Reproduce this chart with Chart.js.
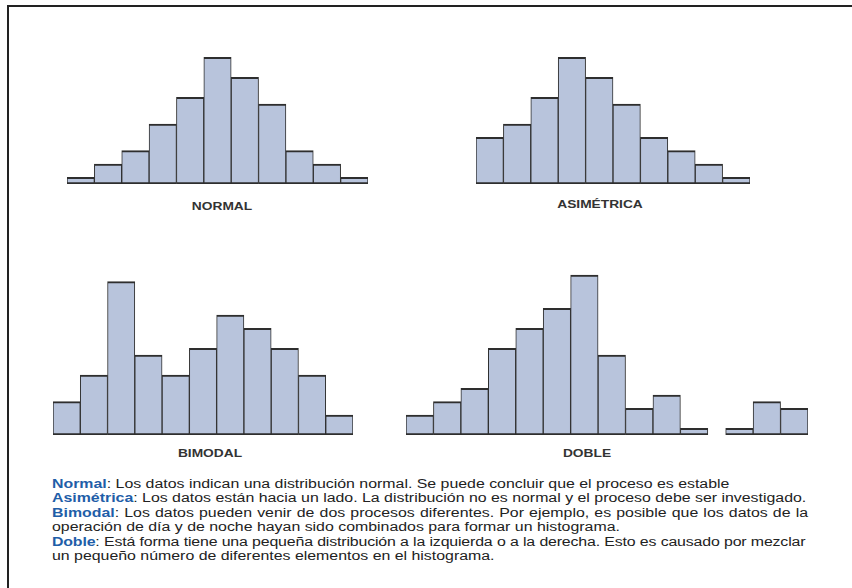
<!DOCTYPE html>
<html>
<head>
<meta charset="utf-8">
<script src="https://cdn.jsdelivr.net/npm/chart.js@4/dist/chart.umd.min.js"></script>
<style>
  html, body { margin:0; padding:0; background:#fff; }
  body { width:852px; height:588px; position:relative; overflow:hidden; font-family:"Liberation Sans", Arial, sans-serif; }
  .frame { position:absolute; left:7px; top:5px; width:900px; height:700px; border-left:2px solid #222; border-top:2px solid #222; }
  canvas { position:absolute; }
  .cap { position:absolute; font-weight:bold; font-size:10.5px; color:#333; white-space:nowrap; transform:translate(-50%,-50%) scaleX(1.31); }
  .notes { position:absolute; left:52px; top:477px; width:571px; transform:scaleX(1.324); transform-origin:left top; font-size:12px; line-height:14.4px; color:#222; }
  .notes div { white-space:nowrap; }
  .notes .j { text-align:justify; text-align-last:justify; }
  .notes .tight { letter-spacing:-0.12px; width:569px; }
  .notes b { color:#1f5ea8; }
</style>
</head>
<body>
<div class="frame"></div>

<canvas id="cNormal" width="301" height="170" style="left:67px;top:14px"></canvas>
<canvas id="cAsim" width="274" height="170" style="left:476px;top:14px"></canvas>
<canvas id="cBimodal" width="300" height="170" style="left:53px;top:265px"></canvas>
<canvas id="cDoble" width="402" height="170" style="left:406px;top:265px"></canvas>

<div class="cap" style="left:222px;top:206px">NORMAL</div>
<div class="cap" style="left:600px;top:204px">ASIMÉTRICA</div>
<div class="cap" style="left:210px;top:453px">BIMODAL</div>
<div class="cap" style="left:587px;top:453px">DOBLE</div>

<div class="notes">
  <div><b>Normal</b>: Los datos indican una distribución normal. Se puede concluir que el proceso es estable</div>
  <div><b>Asimétrica</b>: Los datos están hacia un lado. La distribución no es normal y el proceso debe ser investigado.</div>
  <div class="j"><b>Bimodal</b>: Los datos pueden venir de dos procesos diferentes. Por ejemplo, es posible que los datos de la</div>
  <div>operación de día y de noche hayan sido combinados para formar un histograma.</div>
  <div class="j tight"><b>Doble</b>: Está forma tiene una pequeña distribución a la izquierda o a la derecha. Esto es causado por mezclar</div>
  <div>un pequeño número de diferentes elementos en el histograma.</div>
</div>

<script>
// histogram data (bin heights in counts)
const normalBins = ['1','2','3','4','5','6','7','8','9','10','11'];
const normalValues = [1, 3, 5, 9, 13, 19, 16, 12, 5, 3, 1];

const asimBins = ['1','2','3','4','5','6','7','8','9','10'];
const asimValues = [7, 9, 13, 19, 16, 12, 7, 5, 3, 1];

const bimodalBins = ['1','2','3','4','5','6','7','8','9','10','11'];
const bimodalValues = [5, 9, 23, 12, 9, 13, 18, 16, 13, 9, 3];

// bin centres for DOBLE (small island on the right after a gap)
const dobleBins = [1, 2, 3, 4, 5, 6, 7, 8, 9, 10, 11, 12.65, 13.65, 14.65];
const dobleValues = [3, 5, 7, 13, 16, 19, 24, 12, 4, 6, 1, 1, 5, 4];

const yMax = 25.5;
const fill = '#b8c4dc';
const edge = '#2e2e2e';

const barStyle = {
  backgroundColor: fill,
  borderColor: edge,
  borderWidth: {top: 2, bottom: 2, left: 1, right: 1},
  borderSkipped: false,
  barPercentage: 1,
  categoryPercentage: 1
};

function hist(id, labels, values, xOpts){
  const x = Object.assign({ display:false, grid:{display:false} }, xOpts || {});
  return new Chart(document.getElementById(id), {
    type: 'bar',
    data: { labels, datasets: [Object.assign({ data: values }, barStyle)] },
    options: {
      responsive: false,
      animation: false,
      layout: { padding: 0 },
      plugins: { legend: { display:false }, tooltip: { enabled:false } },
      scales: {
        x,
        y: { display:false, min:0, max:yMax }
      }
    }
  });
}

hist('cNormal', normalBins, normalValues);
hist('cAsim', asimBins, asimValues);
hist('cBimodal', bimodalBins, bimodalValues);

new Chart(document.getElementById('cDoble'), {
  type: 'bar',
  data: { datasets: [Object.assign({ data: dobleBins.map((b, i) => ({x: b, y: dobleValues[i]})) }, barStyle)] },
  options: {
    responsive: false,
    animation: false,
    layout: { padding: 0 },
    plugins: { legend: { display:false }, tooltip: { enabled:false } },
    scales: {
      x: { type:'linear', display:false, offset:false, min:0.5, max:15.15, grid:{display:false} },
      y: { display:false, min:0, max:yMax }
    }
  }
});
</script>
</body>
</html>
